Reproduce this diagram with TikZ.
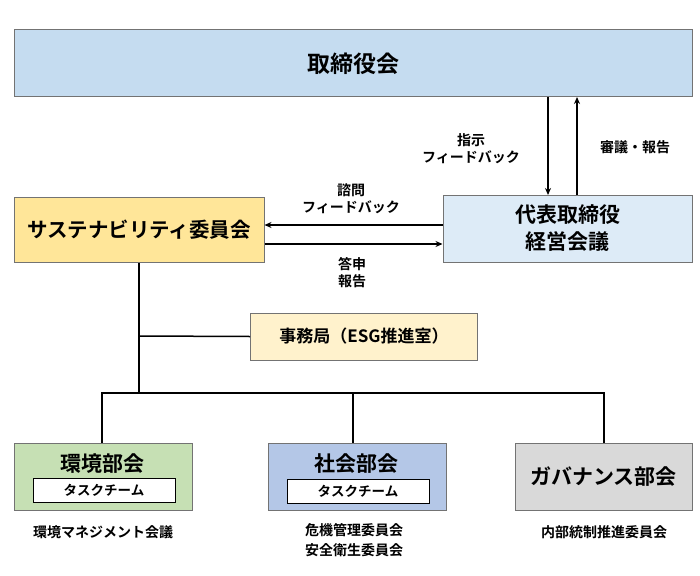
\documentclass[tikz,border=0pt]{standalone}
\usepackage{fontspec}
\setmainfont{Noto Sans CJK JP}[BoldFont={* Bold}]
\usetikzlibrary{arrows.meta}
\definecolor{bTop}{HTML}{C5DCF0}
\definecolor{bExe}{HTML}{DDEBF7}
\definecolor{bSus}{HTML}{FFE699}
\definecolor{bSec}{HTML}{FFF2CC}
\definecolor{bEnv}{HTML}{C6E0B4}
\definecolor{bSoc}{HTML}{B4C7E7}
\definecolor{bGov}{HTML}{D9D9D9}
\begin{document}
\begin{tikzpicture}[x=1pt,y=-1pt,
  box/.style={draw=black!55,line width=1pt,inner sep=0pt,font=\bfseries},
  tag/.style={draw=black,fill=white,line width=0.6pt,minimum width=142pt,minimum height=24pt,inner sep=0pt,font=\bfseries\fontsize{13.5}{15}\selectfont},
  lab/.style={font=\bfseries\fontsize{14}{17}\selectfont,align=center},
  ln/.style={line width=1.5pt},
  ar/.style={line width=1.2pt,-{Stealth[length=7pt,width=6pt]}}]
\useasboundingbox (0,0) rectangle (700,575);
\node[box,fill=bTop,minimum width=678pt,minimum height=67pt,font=\bfseries\fontsize{23}{26}\selectfont] (top) at (353,63.5) {取締役会};
\node[box,fill=bExe,minimum width=249pt,minimum height=67pt,align=center,font=\bfseries\fontsize{21}{27}\selectfont] (exe) at (567.5,228.5) {代表取締役\\経営会議};
\node[box,fill=bSus,minimum width=250pt,minimum height=65pt,font=\bfseries\fontsize{20.5}{24}\selectfont] (sus) at (139,229.5) {サステナビリティ委員会};
\node[box,fill=bSec,minimum width=227pt,minimum height=47pt,font=\bfseries\fontsize{17}{20}\selectfont] (sec) at (364,336.5) {事務局（ESG推進室）};
\node[box,fill=bEnv,minimum width=178pt,minimum height=67pt] (env) at (103,476.5) {};
\node[font=\bfseries\fontsize{21}{24}\selectfont] (envt) at (102,464) {環境部会};
\node[tag] (envk) at (104,490) {タスクチーム};
\node[box,fill=bSoc,minimum width=178pt,minimum height=67pt] (soc) at (357,476.5) {};
\node[font=\bfseries\fontsize{21}{24}\selectfont] (soct) at (356,464) {社会部会};
\node[tag] (sock) at (358,491) {タスクチーム};
\node[box,fill=bGov,minimum width=177pt,minimum height=67pt,font=\bfseries\fontsize{21}{24}\selectfont] (gov) at (603.5,476.5) {ガバナンス部会};
% arrows top-exe
\draw[ar] (548,97) -- (548,195);
\draw[ar] (577,195) -- (577,97);
\node[lab] (l1) at (471,149) {指示\\フィードバック};
\node[lab] (l2) at (635,147) {審議・報告};
% exe-sus
\draw[ar] (exe.west|-0,225) -- (sus.east|-0,225);
\draw[ar] (sus.east|-0,244) -- (exe.west|-0,244);
\node[lab] (l3) at (351,199) {諮問\\フィードバック};
\node[lab] (l4) at (352,273) {答申\\報告};
% tree
\coordinate (j1) at (139,393);
\draw[ln] (sus.south-|139,0) -- (j1);
\draw[ln] (139,336) -- (sec.west);
\draw[ln] (102,443) -- (102,393) -- (604,393) -- (604,443);
\draw[ln] (353,393) -- (353,443);
\node[lab] (b1) at (103,532) {環境マネジメント会議};
\node[lab,font=\bfseries\fontsize{14}{20}\selectfont] (b2) at (354,540) {危機管理委員会\\安全衛生委員会};
\node[lab] (b3) at (604,532) {内部統制推進委員会};
\end{tikzpicture}
\end{document}
